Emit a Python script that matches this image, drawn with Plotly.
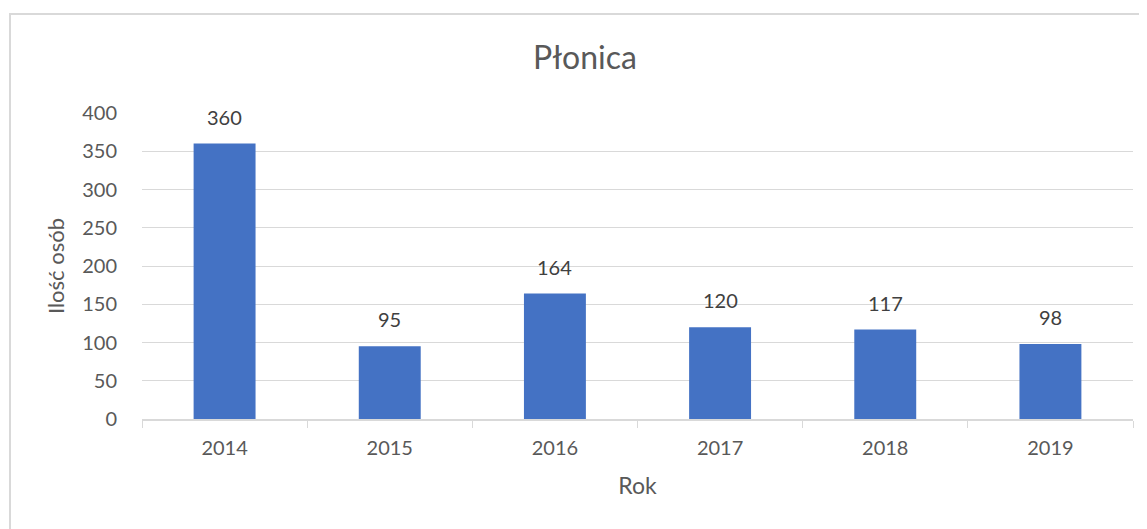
import plotly.graph_objects as go

lata = ["2014", "2015", "2016", "2017", "2018", "2019"]
ilosc = [360, 95, 164, 120, 117, 98]

FONT = "Lato"
GREY = "#595959"

fig = go.Figure()
fig.add_trace(go.Bar(x=lata, y=ilosc, marker=dict(color="#4472c4", line=dict(width=0)), width=0.375))

# data labels above bars (category axis -> index positions)
for i, v in enumerate(ilosc):
    fig.add_annotation(x=i, y=v, text=str(v), showarrow=False, yanchor="bottom", yshift=13,
                       font=dict(family=FONT, size=20, color="#404040"))

# outer chart border (Excel style)
fig.add_shape(type="rect", xref="paper", yref="paper", x0=-0.1332, x1=1.05, y0=-0.6, y1=1.3235,
              line=dict(color="#d9d9d9", width=2), fillcolor="rgba(0,0,0,0)", layer="below")

fig.update_layout(
    width=1147, height=529,
    margin=dict(l=134, r=22, t=105, b=118),
    plot_bgcolor="white", paper_bgcolor="white",
    font=dict(family=FONT, size=20, color=GREY),
    title=dict(text="Płonica", x=0.447, xref="paper", xanchor="center", y=0.906, yanchor="middle",
               font=dict(family=FONT, size=32, color=GREY)),
    showlegend=False,
    bargap=0.625,
)
fig.update_xaxes(
    type="category", automargin=False,
    title=dict(text="Rok", font=dict(size=23, color=GREY), standoff=20),
    showline=True, linecolor="#d9d9d9", linewidth=1.5,
    ticks="outside", tickson="boundaries", ticklen=7, tickcolor="#d9d9d9",
    showgrid=False, tickfont=dict(size=20, color=GREY), tickangle=0,
    ticklabelstandoff=10,
)
fig.update_yaxes(
    automargin=False,
    title=dict(text="Ilość osób", font=dict(size=22, color=GREY), standoff=11),
    range=[0, 400], dtick=50, showgrid=True, gridcolor="#d9d9d9", gridwidth=1,
    zeroline=False, showline=False, ticks="", tickfont=dict(size=20, color=GREY),
    ticklabelstandoff=24,
)

fig.write_html("out.html")
